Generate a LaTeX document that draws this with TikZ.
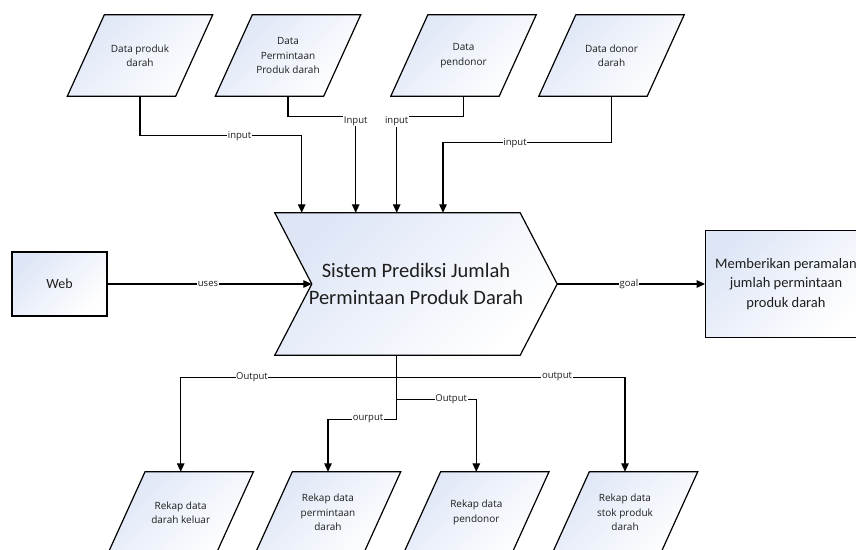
\documentclass[tikz,border=0pt]{standalone}
\usepackage{fontspec}
\setmainfont{Open Sans}
\newfontfamily\calfont{Carlito}
\usetikzlibrary{arrows.meta,calc,backgrounds}
\definecolor{fillA}{RGB}{222,230,246}
\definecolor{txt}{RGB}{30,30,30}
\begin{document}
\begin{tikzpicture}[x=1pt,y=-1pt,
  shapefill/.style={draw=black, line width=1.2pt, line join=miter, top color=fillA, bottom color=white, shading angle=45},
  paratext/.style={rectangle, minimum width=108pt, minimum height=81pt, inner sep=0pt,
    align=center, text=txt, font=\fontsize{10}{14.5}\selectfont},
  maintext/.style={rectangle, minimum width=282pt, minimum height=142pt, inner sep=0pt, align=center, text=txt,
    font=\calfont\fontsize{20.5}{27}\selectfont},
  boxnode/.style={shapefill, rectangle, inner sep=0pt, align=center, text=txt},
  arr/.style={draw=black, line width=1.2pt, -{Triangle[length=8.5pt,width=7.5pt]}},
  lbl/.style={fill=white, inner sep=0.6pt, text=txt, font=\fontsize{9.5}{11}\selectfont}
]
\useasboundingbox (0,0) rectangle (856,549);
\clip (0,0) rectangle (856,549);

% input data
\node[paratext] (p1) at (140,55.5) {Data produk\\darah};
\node[paratext] (p2) at (288,55.5) {Data\\Permintaan\\Produk darah};
\node[paratext] (p3) at (463.5,55.5) {Data\\pendonor};
\node[paratext] (p4) at (611.5,55.5) {Data donor\\darah};

% main process
\node[maintext] (main) at (416,284) {Sistem Prediksi Jumlah\\Permintaan Produk Darah};

% side boxes
\node[boxnode, minimum width=95pt, minimum height=64pt, font=\calfont\fontsize{14}{17}\selectfont] (web) at (59.5,284) {Web};
\node[boxnode, minimum width=160.6pt, minimum height=106.6pt, font=\calfont\fontsize{14.5}{19.5}\selectfont] (goal) at (786,284) {Memberikan peramalan\\jumlah permintaan\\produk darah};

% output data
\node[paratext] (p5) at (180.7,512.5) {Rekap data\\darah keluar};
\node[paratext] (p6) at (328,512.5) {Rekap data\\permintaan\\darah};
\node[paratext] (p7) at (476.3,512.5) {Rekap data\\pendonor};
\node[paratext] (p8) at (625,512.5) {Rekap data\\stok produk\\darah};

% outlines behind the texts
\begin{scope}[on background layer]
\foreach \n in {p1,p2,p3,p4,p5,p6,p7,p8}{
  \draw[shapefill] ($(\n.south west)+(-18.5,0)$) -- ($(\n.north west)+(18.5,0)$)
    -- ($(\n.north east)+(18.5,0)$) -- ($(\n.south east)+(-18.5,0)$) -- cycle;
}
\draw[shapefill] (main.north west) -- ($(main.north east)+(-37,0)$) -- (main.east)
  -- ($(main.south east)+(-37,0)$) -- (main.south west) -- ($(main.west)+(37,0)$) -- cycle;
\end{scope}

% input connectors
\draw[arr] (p1.south) |- ($(main.north)+(-114.3,-77)$) -- ($(main.north)+(-114.3,0)$);
\draw[arr] (p2.south) |- ($(main.north)+(-60.3,-96)$) -- ($(main.north)+(-60.3,0)$);
\draw[arr] (p3.south) |- ($(main.north)+(-19.3,-96)$) -- ($(main.north)+(-19.3,0)$);
\draw[arr] (p4.south) |- ($(main.north)+(27,-70.3)$) -- ($(main.north)+(27,0)$);

% uses / goal
\draw[arr] (web.east) -- ($(main.west)+(37,0)$);
\draw[arr] (main.east) -- (goal.west);

% output connectors
\draw[arr] ($(main.south)+(-19.3,0)$) -- ($(main.south)+(-19.3,22)$) -| (p5.north);
\draw[arr] ($(main.south)+(-19.3,0)$) -- ($(main.south)+(-19.3,64)$) -| (p6.north);
\draw[arr] ($(main.south)+(-19.3,22)$) -- ($(main.south)+(-19.3,44)$) -| (p7.north);
\draw[arr] ($(main.south)+(-19.3,22)$) -| (p8.north);

% labels
\node[lbl] (l1) at (239.5,136) {input};
\node[lbl] (l2) at (355.7,121) {Input};
\node[lbl] (l3) at (396.7,121.4) {input};
\node[lbl] (l4) at (515,142.7) {input};
\node[lbl] (l5) at (208,284) {uses};
\node[lbl] (l6) at (629,284) {goal};
\node[lbl] (l7) at (252,377) {Output};
\node[lbl] (l8) at (368,419) {ourput};
\node[lbl] (l9) at (451.2,399) {Output};
\node[lbl] (l10) at (557,377) {output};
\end{tikzpicture}
\end{document}
